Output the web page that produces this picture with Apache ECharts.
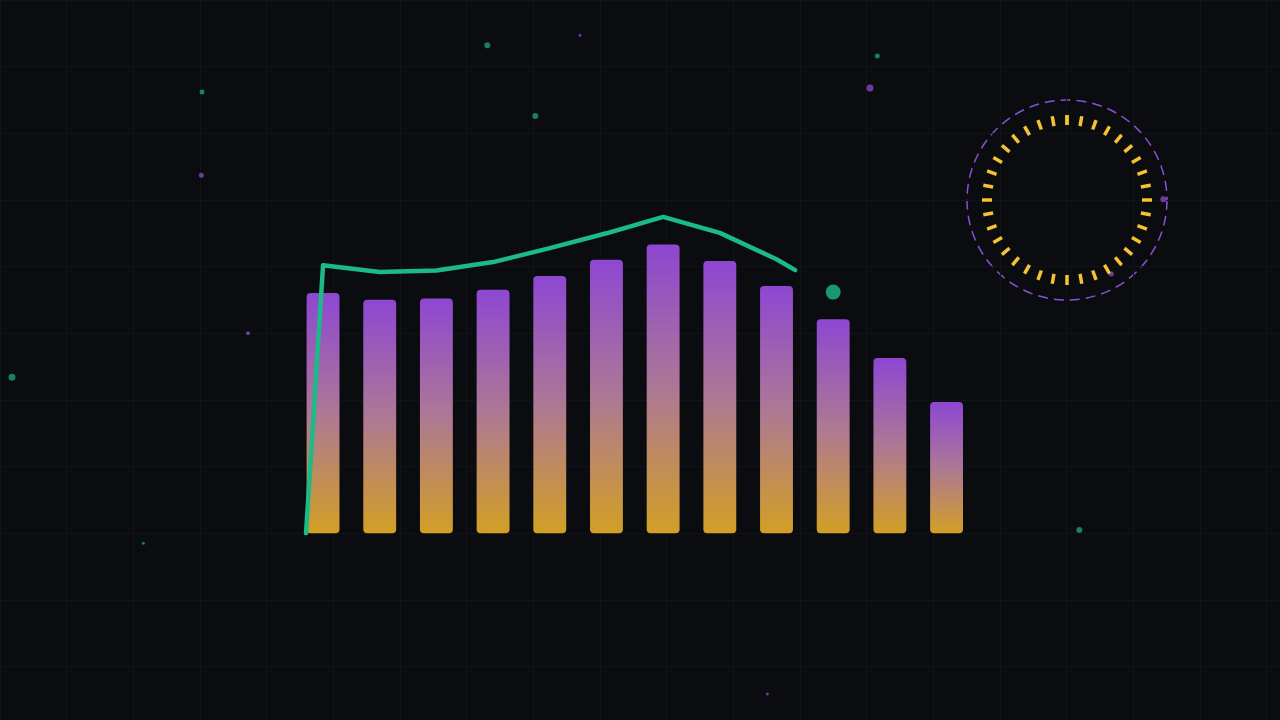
<!DOCTYPE html>
<html>
<head>
<meta charset="utf-8">
<script src="https://cdn.jsdelivr.net/npm/echarts@6/dist/echarts.min.js"></script>
<style>
  html, body { margin: 0; padding: 0; background: #0b0c10; }
  #chart { width: 1280px; height: 720px; }
</style>
</head>
<body>
<div id="chart"></div>
<script>
// months / bars
const categories = ["1", "2", "3", "4", "5", "6", "7", "8", "9", "10", "11", "12"];
const barValues = [60.1, 58.4, 58.7, 60.9, 64.3, 68.4, 72.2, 68.1, 61.8, 53.5, 43.8, 32.8];

// green trend line (x = category index, still drawing in)
const lineX = [-0.3, 0, 1, 2, 3, 4, 5, 6, 7, 8, 8.33];
const lineY = [0, 67, 65.3, 65.7, 67.8, 71.3, 75, 79.1, 75.1, 68.5, 65.8];
const headPoint = [9, 60.3];

// background sparkle dots, in background grid cells
const greenDots = [[7.31, 0.68, 6], [13.16, 0.84, 5], [3.03, 1.38, 5], [8.03, 1.74, 6], [0.18, 5.66, 7], [2.15, 8.15, 3], [16.19, 7.95, 6]];
const purpleDots = [[8.7, 0.53, 3], [13.05, 1.32, 7], [3.02, 2.63, 5], [3.72, 5.0, 4], [11.51, 10.41, 3], [17.45, 2.99, 6], [16.67, 4.11, 5]];

// ring of ticks
const ringTicks = 36;

let myChart = echarts.init(document.getElementById("chart"));

function dots(list, color) {
  return {
    type: "scatter",
    xAxisIndex: 2,
    yAxisIndex: 1,
    data: list.map(function (d) { return [d[0], d[1]]; }),
    symbolSize: function (v, p) { return list[p.dataIndex][2]; },
    itemStyle: { color: color },
    silent: true,
    z: 1
  };
}

let line = [];
for (let i = 0; i < lineX.length; i++) line.push([lineX[i], lineY[i]]);

let option = {
  backgroundColor: "#0b0c10",
  animation: false,
  grid: [
    { left: 294.7, right: 305.1, top: 133.3, bottom: 186.7 },
    { left: 0, right: 0, top: 0, bottom: 0 }
  ],
  xAxis: [
    {
      type: "category",
      gridIndex: 0,
      data: categories,
      show: false
    },
    {
      type: "value",
      gridIndex: 0,
      min: -0.5,
      max: 11.5,
      show: false
    },
    {
      type: "value",
      gridIndex: 1,
      min: 0,
      max: 19.2,
      interval: 1,
      axisLine: { show: false },
      axisTick: { show: false },
      axisLabel: { show: false },
      splitLine: { show: true, lineStyle: { color: "#111318", width: 1 } }
    }
  ],
  yAxis: [
    {
      type: "value",
      gridIndex: 0,
      min: 0,
      max: 100,
      show: false
    },
    {
      type: "value",
      gridIndex: 1,
      inverse: true,
      min: 0,
      max: 10.8,
      interval: 1,
      axisLine: { show: false },
      axisTick: { show: false },
      axisLabel: { show: false },
      splitLine: { show: true, lineStyle: { color: "#111318", width: 1 } }
    }
  ],
  graphic: [
    {
      type: "circle",
      shape: { cx: 1067, cy: 200, r: 100 },
      style: { fill: "none", stroke: "#8a4fd4", lineWidth: 1.5, lineDash: [10, 6] },
      silent: true
    }
  ],
  series: [
    dots(greenDots, "#1c9e74"),
    dots(purpleDots, "#8446c4"),
    {
      type: "bar",
      xAxisIndex: 0,
      yAxisIndex: 0,
      data: barValues,
      barWidth: "58%",
      itemStyle: {
        borderRadius: 4,
        color: new echarts.graphic.LinearGradient(0, 0, 0, 1, [
          { offset: 0, color: "#8d47d2" },
          { offset: 0.5, color: "#ad7895" },
          { offset: 1, color: "#d29f25" }
        ])
      },
      z: 2
    },
    {
      type: "line",
      xAxisIndex: 1,
      yAxisIndex: 0,
      data: line,
      showSymbol: false,
      lineStyle: { color: "#1cbb86", width: 4.5, cap: "round", join: "round" },
      z: 3
    },
    {
      type: "scatter",
      xAxisIndex: 1,
      yAxisIndex: 0,
      data: [headPoint],
      symbolSize: 15,
      itemStyle: { color: "#1cbb86" },
      z: 3
    },
    {
      type: "gauge",
      center: [1067, 200],
      radius: 85,
      startAngle: 90,
      endAngle: -270,
      min: 0,
      max: ringTicks,
      splitNumber: ringTicks,
      axisLine: { show: false, lineStyle: { width: 0 } },
      axisTick: { show: false },
      splitLine: { show: true, distance: 0, length: 10, lineStyle: { color: "#f4c233", width: 3.5 } },
      axisLabel: { show: false },
      pointer: { show: false },
      anchor: { show: false },
      title: { show: false },
      detail: { show: false },
      data: []
    }
  ]
};

if (option && typeof option === "object") myChart.setOption(option);
window.addEventListener("resize", function () {
  myChart.resize();
});
</script>
</body>
</html>
